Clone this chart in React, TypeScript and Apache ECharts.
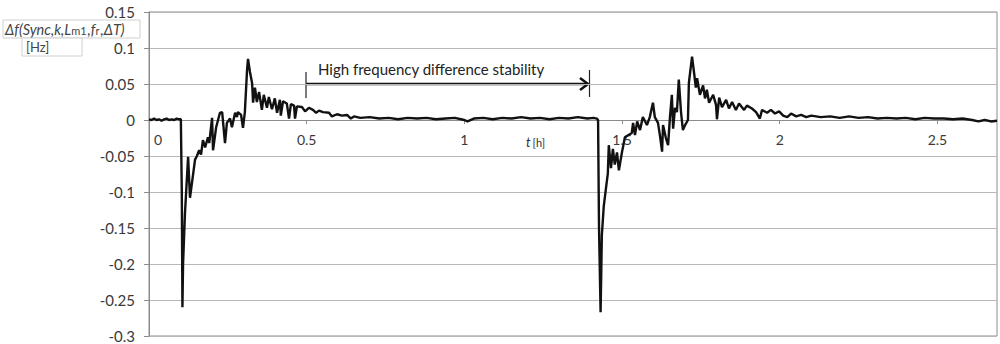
import React, { useEffect, useRef } from "react";
import * as echarts from "echarts";

// time [h]
const timeH: number[] = [
  0.000, 0.008, 0.016, 0.024, 0.032, 0.040, 0.048, 0.056, 0.064, 0.072, 0.080, 0.088, 0.096, 0.101,
  0.104, 0.106, 0.108, 0.114, 0.124, 0.130, 0.137, 0.146, 0.152, 0.159, 0.165, 0.171, 0.178, 0.187,
  0.191, 0.200, 0.203, 0.213, 0.225, 0.232, 0.241, 0.247, 0.257, 0.263, 0.273, 0.279, 0.282, 0.292,
  0.298, 0.304, 0.311, 0.314, 0.320, 0.327, 0.330, 0.336, 0.342, 0.349, 0.358, 0.364, 0.374, 0.380,
  0.390, 0.399, 0.406, 0.415, 0.418, 0.425, 0.437, 0.444, 0.450, 0.460, 0.463, 0.469, 0.485, 0.495,
  0.507, 0.520, 0.530, 0.539, 0.552, 0.571, 0.580, 0.596, 0.612, 0.628, 0.640, 0.650, 0.670,
  0.70, 0.73, 0.76, 0.79, 0.82, 0.85, 0.88, 0.91, 0.94, 0.97, 1.00, 1.01, 1.03, 1.06, 1.09, 1.12,
  1.15, 1.18, 1.21, 1.24, 1.27, 1.30, 1.33, 1.36, 1.39, 1.41, 1.420,
  1.424, 1.427, 1.432, 1.436, 1.442, 1.449, 1.455, 1.458, 1.465, 1.471, 1.477, 1.484, 1.490, 1.500,
  1.503, 1.509, 1.531, 1.535, 1.541, 1.548, 1.557, 1.566, 1.579, 1.588, 1.598, 1.604, 1.614, 1.620,
  1.627, 1.630, 1.639, 1.646, 1.652, 1.658, 1.662, 1.668, 1.674, 1.680, 1.687, 1.693, 1.700, 1.709,
  1.712, 1.722, 1.728, 1.734, 1.738, 1.747, 1.757, 1.763, 1.769, 1.776, 1.789, 1.798, 1.801, 1.808,
  1.817, 1.830, 1.839, 1.849, 1.861, 1.871, 1.887, 1.896, 1.912, 1.925, 1.937, 1.944, 1.960, 1.972,
  1.985, 1.998, 2.011, 2.024, 2.036, 2.052, 2.068, 2.084, 2.10, 2.13, 2.16, 2.19, 2.22, 2.25, 2.28,
  2.31, 2.34, 2.37, 2.40, 2.43, 2.46, 2.49, 2.52, 2.55, 2.58, 2.61, 2.63, 2.65, 2.67, 2.689,
];

// frequency difference [Hz]
const deltaF: number[] = [
  0.001, 0.000, 0.002, 0.000, 0.001, -0.001, 0.001, 0.002, 0.000, 0.001, 0.000, 0.002, 0.001, 0.001,
  -0.100, -0.260, -0.200, -0.130, -0.051, -0.108, -0.085, -0.055, -0.050, -0.042, -0.048, -0.028, -0.038, -0.024,
  -0.032, 0.003, -0.042, -0.010, 0.010, 0.011, -0.032, -0.004, 0.002, -0.010, 0.010, 0.004, 0.011, 0.007,
  -0.011, 0.011, 0.070, 0.085, 0.067, 0.051, 0.024, 0.045, 0.025, 0.039, 0.014, 0.035, 0.017, 0.032,
  0.015, 0.030, 0.010, 0.028, 0.006, 0.026, 0.023, 0.002, 0.022, 0.020, 0.002, 0.019, 0.018, 0.012,
  0.017, 0.014, 0.010, 0.013, 0.011, 0.010, 0.005, 0.008, 0.006, 0.007, 0.002, 0.005, 0.003,
  0.004, 0.002, 0.003, 0.001, 0.003, 0.002, 0.003, 0.001, 0.002, 0.003, 0.000, -0.002, 0.002, 0.003, 0.001, 0.003,
  0.002, 0.004, 0.002, 0.003, 0.001, 0.003, 0.002, 0.004, 0.002, 0.003, 0.002,
  0.000, -0.150, -0.267, -0.160, -0.120, -0.095, -0.074, -0.035, -0.067, -0.040, -0.062, -0.045, -0.070, -0.044,
  -0.038, -0.024, -0.018, -0.004, -0.021, -0.002, -0.014, 0.004, -0.007, 0.004, 0.024, 0.004, -0.004, -0.021,
  -0.044, -0.007, -0.025, -0.035, 0.004, 0.035, -0.012, 0.017, 0.011, 0.056, 0.011, -0.014, -0.007, 0.000,
  0.052, 0.088, 0.067, 0.045, 0.058, 0.035, 0.048, 0.030, 0.042, 0.024, 0.035, 0.021, 0.001, 0.031,
  0.018, 0.028, 0.016, 0.025, 0.014, 0.023, 0.014, 0.020, 0.016, 0.011, 0.002, 0.014, 0.010, 0.014,
  0.009, 0.012, 0.006, 0.004, 0.009, 0.005, 0.007, 0.004, 0.006, 0.004, 0.005, 0.003, 0.005, 0.003, 0.004,
  0.002, 0.003, 0.002, 0.003, 0.001, 0.003, 0.002, 0.002, 0.001, 0.002, 0.000, -0.002, 0.000, -0.002, -0.001,
];

const yTicks = { min: -0.3, max: 0.15, interval: 0.05 };
const xTicks = { min: 0, max: 2.689, interval: 0.5 };
const annotationText = "High frequency difference stability";

const FONT = "Lato, 'Open Sans', sans-serif";

const GRID_TOP = 12;
const GRID_BOTTOM = 8;
const CHART_H = 344;

export default function App() {
  const ref = useRef<HTMLDivElement>(null);

  useEffect(() => {
    if (!ref.current) return;
    const chart = echarts.init(ref.current, undefined, { renderer: "svg" });
    const data = timeH.map((t, i) => [t, deltaF[i]]);

    // put the x axis (line + labels) on the y = 0 level of the plot
    const plotH = CHART_H - GRID_TOP - GRID_BOTTOM;
    const zeroFromBottom = ((0 - yTicks.min) / (yTicks.max - yTicks.min)) * plotH;

    chart.setOption({
      animation: false,
      backgroundColor: "#ffffff",
      textStyle: { fontFamily: FONT },
      grid: {
        left: 149,
        right: 3,
        top: GRID_TOP,
        bottom: GRID_BOTTOM,
        containLabel: false,
        outerBoundsMode: "none",
        show: true,
        borderColor: "#8c8c8c",
        borderWidth: 1,
        backgroundColor: "transparent",
      },
      xAxis: {
        type: "value",
        min: xTicks.min,
        max: xTicks.max,
        interval: xTicks.interval,
        position: "bottom",
        offset: -zeroFromBottom,
        axisLine: { onZero: false, lineStyle: { color: "#8c8c8c", width: 1 } },
        axisTick: { show: true, length: 4, lineStyle: { color: "#8c8c8c" } },
        splitLine: { show: false },
        axisLabel: {
          color: "#3a3a3a",
          fontSize: 14,
          fontFamily: FONT,
          margin: 12,
          showMaxLabel: false,
          alignMinLabel: "left",
          formatter: (v: number) => (v === 0 ? "{z|0}" : String(Number(v.toFixed(2)))),
          rich: { z: { padding: [0, 0, 0, 5], fontSize: 14, color: "#3a3a3a", fontFamily: FONT } },
        },
      },
      yAxis: {
        type: "value",
        min: yTicks.min,
        max: yTicks.max,
        interval: yTicks.interval,
        axisLine: { show: true, onZero: false, lineStyle: { color: "#8c8c8c", width: 1 } },
        axisTick: { show: true, length: 5, lineStyle: { color: "#8c8c8c" } },
        splitLine: { show: true, lineStyle: { color: "#b8b8b8", width: 1 } },
        axisLabel: {
          color: "#3a3a3a",
          fontSize: 15,
          fontFamily: FONT,
          margin: 14,
          formatter: (v: number) => String(Number(v.toFixed(2))),
        },
      },
      graphic: [
        {
          type: "rect",
          shape: { x: 3, y: 20, width: 137, height: 18 },
          style: { fill: "#ffffff", stroke: "#d0d0d0", lineWidth: 1 },
        },
        {
          type: "text",
          x: 5,
          y: 29,
          style: {
            text: "{i|Δf(Sync,k,L}{s|m1}{i|,f}{s|r}{i|,ΔT)}",
            verticalAlign: "middle",
            rich: {
              i: { fontSize: 14.5, fontStyle: "italic", fill: "#444", fontFamily: FONT },
              s: { fontSize: 11, fill: "#444", fontFamily: FONT, padding: [3, 1, 0, 0] },
            },
          },
        },
        {
          type: "rect",
          shape: { x: 22, y: 38, width: 60, height: 18 },
          style: { fill: "#ffffff", stroke: "#d0d0d0", lineWidth: 1 },
        },
        {
          type: "text",
          x: 26,
          y: 47,
          style: { text: "[Hz]", fontSize: 13, fill: "#444", fontFamily: FONT, verticalAlign: "middle" },
        },
        {
          type: "text",
          x: 526,
          y: 142,
          style: {
            text: "{t|t}{h|[h]}",
            verticalAlign: "middle",
            rich: {
              t: { fontSize: 13, fontStyle: "italic", fill: "#333", fontFamily: FONT, padding: [0, 2, 0, 0] },
              h: { fontSize: 11, fill: "#333", fontFamily: FONT },
            },
          },
        },
        {
          type: "text",
          x: 318,
          y: 69,
          style: { text: annotationText, fontSize: 15, fill: "#222", fontFamily: FONT, verticalAlign: "middle" },
        },
        {
          type: "line",
          shape: { x1: 306, y1: 84, x2: 587, y2: 84 },
          style: { stroke: "#111", lineWidth: 2.5 },
        },
        {
          type: "polyline",
          shape: { points: [[580, 78], [588, 84], [580, 90]] },
          style: { stroke: "#111", lineWidth: 2.5, fill: "none" },
        },
        {
          type: "line",
          shape: { x1: 306, y1: 72, x2: 306, y2: 98 },
          style: { stroke: "#222", lineWidth: 1.2 },
        },
        {
          type: "line",
          shape: { x1: 589.5, y1: 70, x2: 589.5, y2: 97 },
          style: { stroke: "#222", lineWidth: 1.2 },
        },
      ],
      series: [
        {
          type: "line",
          data,
          showSymbol: false,
          symbol: "none",
          lineStyle: { color: "#111", width: 2.4 },
          z: 5,
        },
      ],
    });

    return () => chart.dispose();
  }, []);

  return (
    <div
      ref={ref}
      style={{ position: "absolute", left: 0, top: 0, width: 1000, height: 344 }}
    />
  );
}
